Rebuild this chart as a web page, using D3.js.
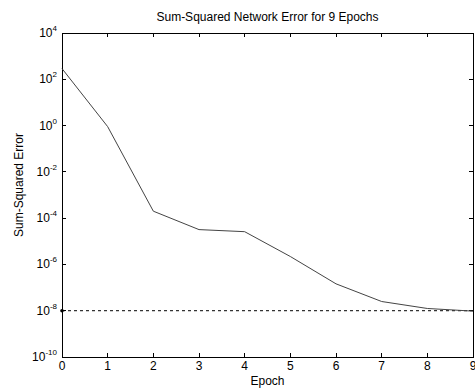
<!DOCTYPE html>
<html>
<head>
<meta charset="utf-8">
<script src="https://cdn.jsdelivr.net/npm/d3@7"></script>
<style>
  body { margin: 0; background: #fff; }
  text { font-family: Arial, "Liberation Sans", sans-serif; fill: #000; }
</style>
</head>
<body>
<script>
// training record
var epochs = [0, 1, 2, 3, 4, 5, 6, 7, 8, 9];
var sse = [290, 0.9, 2.0e-4, 3.2e-5, 2.6e-5, 2.2e-6, 1.45e-7, 2.5e-8, 1.25e-8, 9.6e-9];
var goal = 1e-8;
var xTicks = [0, 1, 2, 3, 4, 5, 6, 7, 8, 9];
var yExponents = [4, 2, 0, -2, -4, -6, -8, -10];

var margin = {top: 33, right: 2, bottom: 31, left: 62},
    width = 475 - margin.left - margin.right,
    height = 388 - margin.top - margin.bottom;

var x = d3.scaleLinear().domain([0, 9]).range([0, width]);
var y = d3.scaleLog().domain([1e-10, 1e4]).range([height, 0]);

var svg = d3.select("body").append("svg")
    .attr("width", 475)
    .attr("height", 388);

var g = svg.append("g")
    .attr("transform", "translate(" + margin.left + "," + margin.top + ")");

// box
g.append("rect")
    .attr("x", 0).attr("y", 0)
    .attr("width", width).attr("height", height)
    .attr("fill", "none")
    .attr("stroke", "#000")
    .attr("stroke-width", 1)
    .attr("shape-rendering", "crispEdges");

var tickLen = 4;
// inward ticks on all four sides
xTicks.forEach(function(t) {
    g.append("line").attr("x1", x(t)).attr("x2", x(t)).attr("y1", height).attr("y2", height - tickLen)
        .attr("stroke", "#000").attr("shape-rendering", "crispEdges");
    g.append("line").attr("x1", x(t)).attr("x2", x(t)).attr("y1", 0).attr("y2", tickLen)
        .attr("stroke", "#000").attr("shape-rendering", "crispEdges");
    g.append("text")
        .attr("x", x(t)).attr("y", height + 13)
        .attr("text-anchor", "middle")
        .style("font-size", "12px")
        .text(t);
});

yExponents.forEach(function(e) {
    var yy = y(Math.pow(10, e));
    g.append("line").attr("x1", 0).attr("x2", tickLen).attr("y1", yy).attr("y2", yy)
        .attr("stroke", "#000").attr("shape-rendering", "crispEdges");
    g.append("line").attr("x1", width).attr("x2", width - tickLen).attr("y1", yy).attr("y2", yy)
        .attr("stroke", "#000").attr("shape-rendering", "crispEdges");
    var lab = g.append("text")
        .attr("x", -5).attr("y", yy + 4)
        .attr("text-anchor", "end")
        .style("font-size", "12px");
    lab.append("tspan").text("10");
    lab.append("tspan")
        .attr("dy", -6)
        .style("font-size", "8px")
        .text(e);
});

// goal line
g.append("line")
    .attr("x1", x(0)).attr("x2", x(9))
    .attr("y1", y(goal)).attr("y2", y(goal))
    .attr("stroke", "#000")
    .attr("stroke-dasharray", "3,3");
g.append("circle")
    .attr("cx", x(0)).attr("cy", y(goal)).attr("r", 1.8)
    .attr("fill", "#000");

// error curve
var line = d3.line()
    .x(function(d, i) { return x(epochs[i]); })
    .y(function(d) { return y(d); });

g.append("path")
    .attr("d", line(sse))
    .attr("fill", "none")
    .attr("stroke", "#444")
    .attr("stroke-width", 1);

// labels
svg.append("text")
    .attr("x", margin.left + width / 2).attr("y", 21)
    .attr("text-anchor", "middle")
    .style("font-size", "12px")
    .text("Sum-Squared Network Error for 9 Epochs");

svg.append("text")
    .attr("x", margin.left + width / 2).attr("y", 385)
    .attr("text-anchor", "middle")
    .style("font-size", "12px")
    .text("Epoch");

svg.append("text")
    .attr("transform", "translate(23,185) rotate(-90)")
    .attr("text-anchor", "middle")
    .style("font-size", "12px")
    .text("Sum-Squared Error");
</script>
</body>
</html>
